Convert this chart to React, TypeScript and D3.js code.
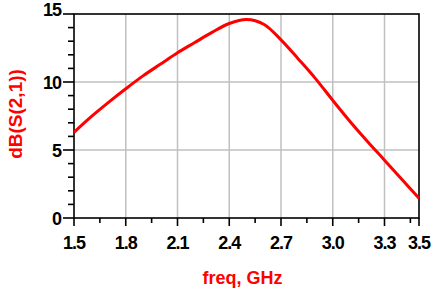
import React, { useEffect, useRef } from "react";
import * as d3 from "d3";

// S21 gain
const freqGHz = [1.5, 1.6, 1.7, 1.8, 1.9, 2.0, 2.1, 2.2, 2.3, 2.4, 2.5, 2.6, 2.7, 2.8, 2.9, 3.0, 3.1, 3.2, 3.3, 3.4, 3.5];
const dbS21 = [6.3, 7.45, 8.5, 9.5, 10.45, 11.3, 12.15, 12.9, 13.65, 14.3, 14.6, 14.25, 13.1, 11.7, 10.25, 8.65, 7.1, 5.65, 4.25, 2.85, 1.45];

const xTickLabels = [1.5, 1.8, 2.1, 2.4, 2.7, 3.0, 3.3, 3.5];
const xGridLines = [1.8, 2.1, 2.4, 2.7, 3.0, 3.3];
const xMinorTicks = [1.65, 1.95, 2.25, 2.55, 2.85, 3.15, 3.45];
const yTickLabels = [0, 5, 10, 15];
const yGridLines = [5, 10];
const yMinorTicks = [1, 2, 3, 4, 6, 7, 8, 9, 11, 12, 13, 14];

const WIDTH = 444;
const HEIGHT = 296;
const margin = { top: 14, right: 25, bottom: 78, left: 74 };

export default function App() {
  const ref = useRef<SVGSVGElement>(null);

  useEffect(() => {
    const svg = d3.select(ref.current);
    svg.selectAll("*").remove();

    const w = WIDTH - margin.left - margin.right;
    const h = HEIGHT - margin.top - margin.bottom;

    const x = d3.scaleLinear().domain([1.5, 3.5]).range([0, w]);
    const y = d3.scaleLinear().domain([0, 15]).range([h, 0]);

    const g = svg.append("g").attr("transform", `translate(${margin.left},${margin.top})`);

    // grid
    g.selectAll(".vgrid")
      .data(xGridLines)
      .enter()
      .append("line")
      .attr("x1", d => x(d))
      .attr("x2", d => x(d))
      .attr("y1", 0)
      .attr("y2", h)
      .attr("stroke", "#c0c0c0")
      .attr("stroke-width", 1.5);

    g.selectAll(".hgrid")
      .data(yGridLines)
      .enter()
      .append("line")
      .attr("x1", 0)
      .attr("x2", w)
      .attr("y1", d => y(d))
      .attr("y2", d => y(d))
      .attr("stroke", "#c0c0c0")
      .attr("stroke-width", 1.5);

    // frame
    g.append("rect")
      .attr("width", w)
      .attr("height", h)
      .attr("fill", "none")
      .attr("stroke", "#000")
      .attr("stroke-width", 1.6);

    // x ticks
    g.selectAll(".xmaj")
      .data(xTickLabels)
      .enter()
      .append("line")
      .attr("x1", d => x(d))
      .attr("x2", d => x(d))
      .attr("y1", h)
      .attr("y2", h + 8)
      .attr("stroke", "#000")
      .attr("stroke-width", 1.6);

    g.selectAll(".xmin")
      .data(xMinorTicks)
      .enter()
      .append("line")
      .attr("x1", d => x(d))
      .attr("x2", d => x(d))
      .attr("y1", h)
      .attr("y2", h + 5)
      .attr("stroke", "#000")
      .attr("stroke-width", 1.6);

    // y ticks
    g.selectAll(".ymaj")
      .data(yTickLabels)
      .enter()
      .append("line")
      .attr("x1", -11)
      .attr("x2", 0)
      .attr("y1", d => y(d))
      .attr("y2", d => y(d))
      .attr("stroke", "#000")
      .attr("stroke-width", 1.6);

    g.selectAll(".ymin")
      .data(yMinorTicks)
      .enter()
      .append("line")
      .attr("x1", -6)
      .attr("x2", 0)
      .attr("y1", d => y(d))
      .attr("y2", d => y(d))
      .attr("stroke", "#000")
      .attr("stroke-width", 1.6);

    // tick labels
    g.selectAll(".xlab")
      .data(xTickLabels)
      .enter()
      .append("text")
      .attr("x", d => x(d))
      .attr("y", h + 31)
      .attr("text-anchor", "middle")
      .attr("font-family", "Liberation Sans, Arial, sans-serif")
      .attr("font-size", 18)
      .attr("font-weight", "bold")
      .attr("letter-spacing", -1)
      .attr("fill", "#000")
      .text(d => d.toFixed(1));

    g.selectAll(".ylab")
      .data(yTickLabels)
      .enter()
      .append("text")
      .attr("x", -13)
      .attr("y", d => (d === 15 ? y(d) + 2 : y(d) + 6.5))
      .attr("text-anchor", "end")
      .attr("font-family", "Liberation Sans, Arial, sans-serif")
      .attr("font-size", 18)
      .attr("font-weight", "bold")
      .attr("letter-spacing", -1)
      .attr("fill", "#000")
      .text(d => d);

    // curve
    const line = d3
      .line<number>()
      .x((d, i) => x(freqGHz[i]))
      .y(d => y(d))
      .curve(d3.curveCatmullRom);

    g.append("path")
      .datum(dbS21)
      .attr("d", line)
      .attr("fill", "none")
      .attr("stroke", "#ff0000")
      .attr("stroke-width", 3);

    // axis titles
    svg
      .append("text")
      .attr("x", margin.left + w / 2 - 4)
      .attr("y", 284)
      .attr("text-anchor", "middle")
      .attr("font-family", "Liberation Sans, Arial, sans-serif")
      .attr("font-size", 18)
      .attr("font-weight", "bold")
      .attr("fill", "#ff0000")
      .text("freq, GHz");

    svg
      .append("text")
      .attr("transform", `translate(22,114) rotate(-90)`)
      .attr("text-anchor", "middle")
      .attr("font-family", "Liberation Sans, Arial, sans-serif")
      .attr("font-size", 19)
      .attr("font-weight", "bold")
      .attr("fill", "#ff0000")
      .text("dB(S(2,1))");
  }, []);

  return (
    <svg
      ref={ref}
      width={WIDTH}
      height={HEIGHT}
      style={{ position: "absolute", left: 0, top: 0, background: "#fff" }}
    />
  );
}
